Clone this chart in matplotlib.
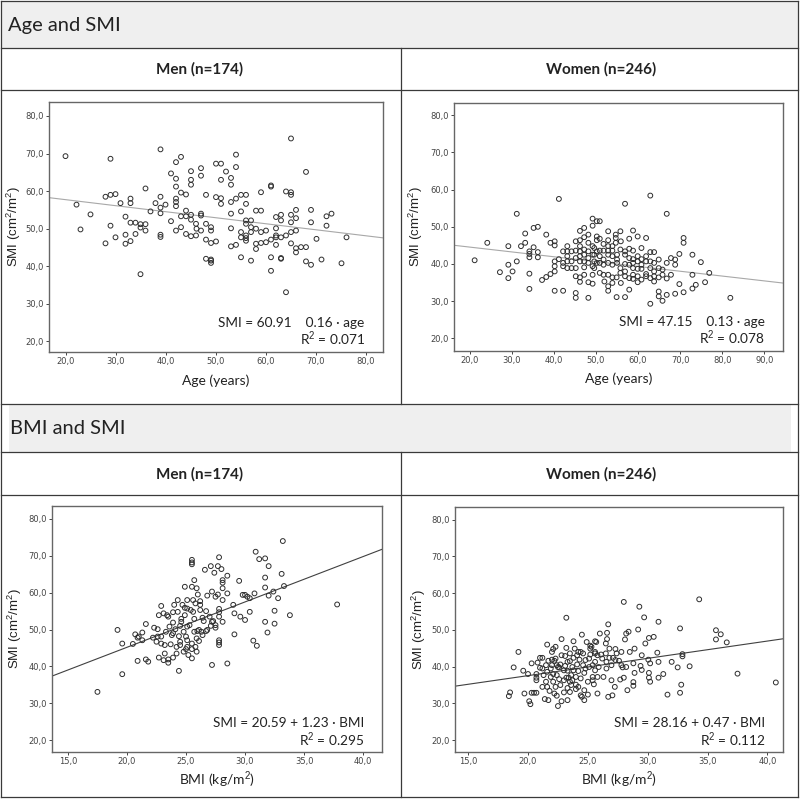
import matplotlib
matplotlib.use("Agg")
import matplotlib.pyplot as plt
from matplotlib.patches import Rectangle
from matplotlib.ticker import FuncFormatter
import numpy as np

plt.rcParams["mathtext.fontset"] = "custom"
plt.rcParams["mathtext.rm"] = "Liberation Sans"
plt.rcParams["mathtext.it"] = "Liberation Sans"

# ---- data ----
men_age = [19.9, 22.1, 22.9, 24.9, 27.9, 27.9, 28.9, 28.9, 28.9, 29.9, 29.9, 30.9, 31.9, 31.9, 31.9,
           32.9, 32.9, 32.9, 32.9, 33.9, 33.9, 34.9, 34.9, 34.9, 35.9, 35.9, 35.9, 36.9, 37.9, 38.9,
           38.9, 38.9, 38.9, 38.9, 38.9, 39.9, 41.0, 41.0, 42.0, 42.0, 42.0, 42.0, 42.0, 42.0, 42.0,
           43.0, 43.0, 43.0, 43.0, 44.0, 44.0, 44.0, 44.0, 45.0, 45.0, 45.0, 45.0, 45.0, 45.0, 46.0,
           46.0, 46.1,
           47.0, 47.0, 48.0, 48.0, 48.0, 49.0, 49.0, 50.0, 51.0, 50.0, 51.0, 50.0, 49.0, 51.0, 51.0,
           48.0, 49.0, 49.0, 49.0, 47.0, 47.0, 47.0, 52.0, 53.0, 53.0, 54.0, 54.0, 53.0, 54.0, 55.0,
           56.0, 56.0, 53.0, 55.0, 53.0, 53.0, 54.0, 55.0, 55.0, 55.0, 56.0, 56.0, 56.0, 56.0, 56.0,
           57.0, 57.0, 57.0, 57.0, 58.0, 59.0, 59.0, 58.0, 58.0, 59.0, 60.0, 60.0, 61.0, 61.0, 61.0,
           61.0, 61.0, 62.0, 62.0, 62.0, 62.0, 62.0, 63.0, 63.0, 63.0, 63.0, 63.0, 64.0, 64.0, 64.0,
           65.0, 65.0, 65.0, 65.0, 65.0, 65.0, 65.0, 66.0, 66.0, 66.0, 66.0, 66.0, 67.0, 68.0, 68.0,
           69.0, 69.0, 68.0, 69.0, 70.1, 71.1, 72.1, 73.1, 72.1, 75.1, 76.1, 58.0, 59.0]
men_age_smi = [69.3, 56.4, 49.8, 53.8, 46.1, 58.5, 68.6, 50.8, 59.0, 59.2, 47.7, 56.8, 53.2, 48.4, 46.0,
               58.0, 56.8, 51.6, 46.7, 51.6, 48.6, 51.2, 50.3, 37.9, 60.7, 51.2, 49.5, 54.6, 56.8, 71.1,
               58.5, 55.6, 54.1, 48.4, 47.8, 56.4, 64.7, 52.0, 67.7, 63.3, 61.2, 58.0, 57.1, 56.0, 49.5,
               69.1, 59.6, 53.3, 50.4, 59.1, 54.8, 53.3, 48.6, 65.3, 63.0, 61.7, 53.7, 52.4, 48.0, 51.3,
               48.2, 50.0,
               66.1, 64.1, 59.0, 51.3, 47.1, 49.5, 46.2, 67.3, 67.3, 58.4, 58.1, 46.6, 50.4, 63.0, 56.6,
               42.0, 41.5, 41.8, 40.9, 54.0, 53.5, 49.5, 65.2, 63.5, 61.7, 69.7, 66.4, 57.1, 58.0, 59.0,
               59.0, 56.6, 54.0, 54.6, 50.1, 45.3, 45.7, 42.4, 49.1, 47.7, 52.2, 51.3, 48.2, 47.5, 46.8,
               52.2, 50.4, 49.1, 41.5, 54.8, 54.8, 59.7, 50.0, 46.0, 46.2, 46.4, 49.5, 61.5, 61.2, 42.4,
               38.8, 47.1, 48.2, 45.7, 53.1, 50.1, 47.7, 53.7, 52.2, 42.0, 42.2, 47.7, 59.9, 33.1, 48.2,
               74.0, 59.7, 59.0, 53.7, 51.7, 49.1, 46.1, 52.8, 55.0, 49.5, 44.8, 43.7, 45.1, 45.1, 65.1,
               55.0, 51.7, 41.3, 40.4, 47.3, 41.8, 53.3, 54.0, 50.8, 40.8, 47.7, 44.6, 49.1]

women_age = [21.2, 24.2, 27.2, 29.2, 29.2, 29.2, 30.2, 31.2, 31.2, 32.2, 33.2, 33.2, 34.2, 34.2, 34.2,
             34.2, 34.2, 35.2, 36.2, 35.2, 36.2, 36.2, 37.2, 38.2, 38.2, 39.2, 39.2, 40.2, 40.2, 40.2,
             40.2, 40.2, 40.2, 41.2, 41.2, 42.2, 42.2, 42.2, 43.2, 43.2, 43.2, 43.2, 44.2, 45.2, 45.2,
             45.2, 45.2, 45.2, 45.2, 46.2, 46.2, 46.2, 46.2, 46.2, 46.2, 46.2, 46.2, 47.2, 47.2, 47.2,
             47.2, 47.2, 47.2, 48.2, 48.2, 48.2, 48.2, 48.2, 48.2, 48.2, 49.2, 49.2, 49.2, 49.2, 49.2,
             50.2, 50.2, 50.2, 50.2,
             56.9, 62.9, 66.8, 50.9, 52.9, 54.7, 55.8, 54.7, 54.7, 52.9, 58.8, 57.9, 59.9, 61.9, 51.8,
             50.9, 50.9, 51.8, 52.9, 53.9, 52.9, 53.9, 55.8, 56.9, 57.9, 58.8, 60.8, 62.9, 63.8, 57.9,
             58.8, 59.9, 60.8, 61.9, 50.9, 51.8, 52.9, 53.9, 55.0, 56.9, 55.8, 50.9, 51.8, 52.9, 53.9,
             54.9, 55.8, 56.9, 58.8, 59.9, 60.8, 62.9, 63.8, 64.9, 65.8, 66.8, 68.8, 68.8, 69.8, 70.8,
             70.8, 72.9, 74.9, 76.9, 72.9, 75.9, 73.7, 69.8, 70.8, 68.8, 66.8, 65.8, 64.9, 64.9, 62.9,
             60.8, 59.9, 58.8, 57.9, 56.9, 54.9, 52.9, 52.9, 61.9, 61.9, 63.8, 64.9, 66.8, 67.8, 72.9,
             81.9, 55.9,
             49.6, 49.6, 49.6, 49.6, 50.9, 51.8, 52.9, 53.9, 55.0, 55.0, 56.9, 57.9, 58.8, 59.9, 60.8,
             61.9, 62.9, 63.8, 64.9, 65.8, 55.9, 53.9, 52.0, 58.8, 56.9, 57.9, 59.9, 62.9, 63.8, 67.8,
             44.2, 44.2, 45.2, 47.2, 49.2, 49.2, 50.2, 43.2, 42.2]
women_age_smi = [41.0, 45.7, 37.8, 44.8, 39.8, 36.2, 38.0, 53.5, 40.7, 44.8, 48.2, 45.7, 43.4, 42.7, 41.8,
                 37.4, 33.3, 49.7, 50.0, 44.5, 43.2, 41.8, 35.7, 47.9, 36.5, 37.3, 45.7, 46.1, 45.0, 40.7,
                 39.4, 38.0, 32.8, 57.5, 41.3, 40.3, 39.4, 32.8, 44.8, 43.4, 42.1, 38.9, 38.9, 38.9, 36.7,
                 32.2, 30.9, 43.6, 46.1, 48.9, 46.4, 44.8, 43.4, 42.1, 40.7, 36.4, 35.2, 49.7, 47.2, 43.9,
                 42.5, 40.7, 39.1, 47.9, 45.7, 43.4, 41.6, 40.3, 35.1, 30.9, 52.2, 50.3, 44.8, 39.4, 34.7,
                 47.4, 46.4, 40.3, 51.5,
                 56.2, 58.4, 53.5, 51.5, 48.8, 47.9, 48.8, 47.0, 45.7, 46.4, 49.0, 46.8, 47.4, 47.0, 45.4,
                 46.8, 43.6, 43.6, 43.6, 43.6, 42.5, 42.1, 43.9, 43.4, 44.1, 43.6, 44.3, 43.2, 43.2, 41.6,
                 41.3, 42.1, 41.3, 42.1, 40.3, 39.8, 40.3, 39.8, 40.3, 40.0, 38.9, 37.6, 37.1, 37.1, 36.4,
                 36.4, 37.6, 38.0, 38.9, 38.7, 38.7, 38.9, 38.0, 38.9, 38.5, 40.3, 39.8, 41.2, 42.7, 47.0,
                 45.7, 42.5, 40.5, 37.6, 37.1, 35.1, 34.4, 34.6, 32.4, 32.0, 31.7, 30.1, 32.6, 31.3, 29.3,
                 35.8, 35.1, 36.0, 33.1, 31.1, 31.1, 34.0, 32.8, 37.3, 36.7, 36.7, 36.4, 36.1, 37.1, 33.4,
                 30.9, 46.1,
                 44.3, 42.5, 40.7, 38.9, 42.1, 41.2, 44.8, 44.8, 42.5, 41.2, 42.5, 39.8, 40.3, 40.7, 39.8,
                 40.7, 40.7, 40.3, 41.2, 37.1, 34.9, 34.9, 35.3, 37.1, 36.7, 36.2, 36.7, 36.2, 35.3, 41.6,
                 43.4, 40.7, 41.6, 37.1, 42.5, 37.1, 43.4, 40.7, 43.4]

men_bmi = [17.5, 19.2, 19.6, 19.6, 20.5, 20.7, 20.9, 21.0, 20.9, 21.3, 21.3, 21.6, 21.6, 21.8, 22.2,
           22.3, 22.6, 22.6, 22.7, 22.7, 22.9, 22.9, 22.9, 23.1, 23.1, 23.2, 23.3, 23.4, 23.5, 23.5,
           23.5, 23.7, 23.9, 23.9, 23.9, 24.0, 24.1, 24.2, 24.3, 24.3, 24.4, 24.4, 24.5, 24.5, 24.5,
           24.6, 24.6, 24.7, 24.8, 24.9, 24.9, 24.9, 25.0, 25.0, 25.1, 25.1, 25.1, 25.1, 25.3, 25.4,
           25.5, 25.5, 25.5, 25.5, 25.5, 25.5, 25.5, 25.6, 25.6, 25.7, 25.7, 25.7, 25.8, 25.8, 25.9,
           25.9, 25.96, 26.0,
           26.6, 27.1, 27.4, 27.8, 27.7, 28.0, 28.1, 28.1, 28.5, 28.1, 27.2, 27.7, 27.5, 26.8, 26.2,
           28.5, 28.1, 27.8, 27.8, 27.8, 28.1, 27.3, 26.7, 26.4, 26.5, 26.2, 26.2, 27.0, 27.2, 27.5,
           27.5, 27.1, 26.8, 26.7, 26.3, 26.4, 26.1, 26.1, 27.8, 27.8, 27.8, 27.2, 28.5, 29.0, 29.1,
           29.1, 29.5, 29.6, 29.8, 30.0, 30.0, 30.2, 30.4, 30.4, 30.8, 30.9, 31.2, 30.7, 31.0, 31.7,
           31.7, 31.7, 31.7, 32.0, 32.0, 31.9, 32.4, 32.5, 32.5, 32.8, 33.1, 33.2, 33.3, 33.8, 37.8,
           23.8, 24.2, 24.8, 25.2, 25.9, 25.1, 23.9, 23.2, 22.5, 23.6]
men_bmi_smi = [33.1, 49.9, 46.2, 37.9, 46.1, 48.7, 47.8, 48.1, 41.5, 49.2, 47.1, 51.5, 41.9, 41.3, 47.8,
               50.5, 50.1, 48.1, 53.9, 42.4, 56.4, 46.2, 48.1, 54.4, 41.7, 43.5, 49.4, 53.9, 41.9, 41.0,
               53.5, 46.0, 54.7, 42.4, 51.9, 56.7, 50.1, 45.3, 58.0, 54.8, 38.8, 48.2, 51.0, 46.7, 45.8,
               52.9, 52.1, 56.7, 49.4, 61.6, 53.9, 55.9, 48.1, 44.7, 58.0, 50.8, 47.1, 45.3, 51.2, 55.3,
               68.9, 68.2, 67.7, 61.6, 46.2, 44.7, 42.2, 58.0, 54.8, 52.9, 49.4, 63.4, 57.1, 45.3, 61.2,
               47.6, 49.6, 59.5,
               66.2, 67.2, 65.4, 69.6, 67.2, 66.4, 63.4, 62.7, 64.6, 61.2, 60.3, 59.5, 58.9, 59.2, 57.7,
               59.8, 58.0, 55.6, 54.7, 53.5, 52.1, 52.3, 55.0, 53.2, 52.3, 56.7, 55.3, 53.5, 52.1, 51.2,
               50.5, 51.0, 49.9, 49.6, 49.4, 48.5, 49.9, 46.9, 47.1, 46.5, 45.8, 40.4, 40.8, 56.7, 54.4,
               48.7, 63.2, 53.5, 59.4, 59.4, 52.6, 58.9, 58.5, 54.8, 59.8, 71.1, 69.1, 47.0, 45.6, 69.3,
               64.1, 61.4, 52.1, 67.2, 59.2, 49.2, 60.3, 55.1, 51.6, 58.5, 65.1, 74.0, 61.8, 53.9, 56.8,
               48.5, 43.5, 44.0, 43.1, 44.0, 55.7, 49.0, 45.8, 46.7, 50.8]

women_bmi = [18.4, 18.5, 18.8, 19.2, 19.6, 19.7, 20.0, 20.1, 20.2, 20.3, 20.5, 20.7, 20.7, 20.7, 20.7,
             20.8, 21.0, 21.0, 21.2, 21.2, 21.2, 21.4, 21.5, 21.5, 21.6, 21.6, 21.7, 21.7, 21.8, 21.9,
             21.9, 22.0, 22.0, 22.1, 22.1, 22.2, 22.2, 22.3, 22.3, 22.3, 22.4, 22.4, 22.5, 22.5, 22.6,
             22.6, 22.7, 22.8, 22.8, 22.8, 23.0, 23.0, 23.1, 23.1, 23.2, 23.2, 23.2, 23.3, 23.3, 23.3,
             23.4, 23.5, 23.5, 23.5, 23.6, 23.6, 23.7, 23.8, 23.8, 23.8, 23.9, 24.0, 24.0, 24.1, 24.1,
             24.2, 24.2, 24.3, 24.4, 24.4, 24.5, 24.5, 24.6, 24.6, 24.7, 24.7, 24.8, 24.9, 25.0, 25.0,
             25.1, 25.2, 25.2, 25.2, 25.3, 25.4, 25.4, 25.5, 25.6, 25.6, 25.6, 25.6, 25.7, 25.8, 25.8,
             25.9, 26.0,
             28.0, 29.3, 29.7, 30.9, 34.3, 26.7, 28.2, 28.4, 29.2, 29.8, 30.1, 30.5, 32.7, 35.7, 36.1,
             35.7, 36.6, 26.6, 26.5, 26.6, 28.1, 28.9, 28.5, 27.8, 27.3, 26.8, 26.5, 26.1, 26.8, 27.1,
             27.6, 27.3, 26.2, 26.55, 26.97, 27.4, 27.8, 27.9, 28.2, 28.8, 29.5, 30.05, 30.2, 30.8, 30.9,
             30.1, 30.1, 30.2, 30.9, 31.3, 32.0, 32.5, 32.9, 32.9, 33.5, 32.8, 32.7, 31.65, 29.5, 29.4,
             28.9, 28.8, 28.8, 28.3, 28.0, 27.7, 27.25, 27.05, 26.7, 26.97, 26.3, 26.55, 37.5, 40.7,
             20.3, 22.0, 22.4, 23.0, 23.3, 23.7, 24.0, 24.4, 24.8, 25.1, 25.4, 25.8, 21.6, 22.7, 23.5,
             21.3, 22.1, 24.2, 24.7, 25.6]
women_bmi_smi = [32.0, 33.0, 39.8, 44.0, 38.9, 32.7, 38.0, 30.6, 29.8, 32.9, 32.9, 38.0, 37.0, 32.9, 36.3,
                 41.1, 42.4, 39.7, 42.4, 39.5, 34.5, 31.2, 40.4, 35.9, 46.0, 38.6, 41.6, 30.9, 33.4, 37.2,
                 39.5, 41.9, 40.4, 44.8, 38.0, 41.6, 32.7, 42.2, 34.5, 45.4, 40.4, 32.1, 39.9, 29.3, 39.8,
                 36.6, 40.6, 47.5, 30.6, 43.1, 36.3, 33.0, 42.9, 40.2, 53.3, 45.1, 37.0, 34.2, 30.9, 38.9,
                 37.0, 35.9, 43.6, 41.5, 37.7, 35.0, 36.3, 46.9, 42.4, 39.0, 44.9, 35.1, 33.9, 43.1, 40.6,
                 44.0, 38.8, 41.9, 36.8, 32.2, 31.8, 48.7, 43.6, 40.4, 38.3, 30.9, 41.8, 46.7, 35.9, 32.4,
                 39.9, 45.7, 44.9, 43.3, 45.4, 37.2, 36.3, 35.2, 46.9, 43.6, 39.0, 41.3, 46.7, 37.2, 32.7,
                 39.9, 49.0,
                 57.6, 56.3, 53.4, 52.2, 58.3, 51.5, 49.0, 49.5, 50.1, 46.3, 47.8, 48.1, 50.4, 49.9, 48.8,
                 47.4, 46.6, 47.5, 46.3, 49.2, 47.4, 44.9, 44.0, 44.0, 44.8, 44.9, 43.6, 43.3, 42.4, 42.4,
                 41.6, 41.8, 42.2, 41.3, 40.4, 43.6, 40.4, 39.8, 39.9, 40.9, 43.1, 41.9, 40.9, 43.8, 41.3,
                 38.3, 37.0, 35.9, 37.0, 38.0, 41.3, 39.8, 43.4, 42.8, 40.1, 35.1, 32.9, 32.4, 39.1, 40.2,
                 38.3, 35.8, 34.8, 33.6, 37.0, 36.5, 34.5, 32.2, 31.8, 36.3, 37.2, 39.5, 38.1, 35.7,
                 40.9, 44.0, 37.7, 39.0, 41.3, 39.9, 37.2, 44.0, 39.5, 42.2, 40.4, 43.1, 34.5, 35.0, 33.1,
                 37.7, 35.9, 34.5, 33.6, 44.0]

# fitted lines (intercept, slope) as printed on the chart
fits = {
    "men_age": (60.91, -0.16),
    "women_age": (47.15, -0.13),
    "men_bmi": (20.59, 1.23),
    "women_bmi": (28.16, 0.47),
}
eq_text = {
    "men_age": ("SMI = 60.91    0.16 \u00b7 age", "R$^2$ = 0.071"),
    "women_age": ("SMI = 47.15    0.13 \u00b7 age", "R$^2$ = 0.078"),
    "men_bmi": ("SMI = 20.59 + 1.23 \u00b7 BMI", "R$^2$ = 0.295"),
    "women_bmi": ("SMI = 28.16 + 0.47 \u00b7 BMI", "R$^2$ = 0.112"),
}

W, H = 800, 799
fig = plt.figure(figsize=(W / 100, H / 100), dpi=100)
fig.patch.set_facecolor("white")

# table / frame drawn in pixel space
bg = fig.add_axes([0, 0, 1, 1])
bg.set_xlim(0, W)
bg.set_ylim(H, 0)
bg.axis("off")
lc = "#3a3a3a"
bg.add_patch(Rectangle((1, 1), 797, 47, facecolor="#efefef", edgecolor="none"))
bg.add_patch(Rectangle((9, 405), 782, 47, facecolor="#efefef", edgecolor="none"))
for y in [1, 48, 90, 404, 452, 495, 797]:
    bg.plot([1, 798], [y, y], color=lc, lw=0.9)
bg.plot([1, 1], [1, 797], color=lc, lw=0.9)
bg.plot([798, 798], [1, 797], color=lc, lw=0.9)
bg.plot([401, 401], [48, 404], color=lc, lw=0.9)
bg.plot([401, 401], [452, 797], color=lc, lw=0.9)

bg.text(8, 25, "Age and SMI", fontsize=14.5, family="Lato", va="center", ha="left", color="#222")
bg.text(10, 429, "BMI and SMI", fontsize=14.5, family="Lato", va="center", ha="left", color="#222")
for yy in [69, 474]:
    bg.text(200, yy, "Men (n=174)", fontsize=11, family="Lato", weight="bold", ha="center", va="center", color="#222")
    bg.text(601, yy, "Women (n=246)", fontsize=11, family="Lato", weight="bold", ha="center", va="center", color="#222")

comma = FuncFormatter(lambda v, p: ("%.1f" % v).replace(".", ","))


def panel(rect_px, x, y, key, xlim, ylim, xticks, xlabel, line_col, label_y, ylab_x):
    l, t, r, b = rect_px
    ax = fig.add_axes([l / W, 1 - b / H, (r - l) / W, (b - t) / H])
    ax.scatter(x, y, s=12, facecolors="none", edgecolors="#2e2e2e", linewidths=0.7, zorder=3)
    a, k = fits[key]
    xs = np.array(xlim)
    ax.plot(xs, a + k * xs, color=line_col, lw=0.8, zorder=2)
    ax.set_xlim(xlim)
    ax.set_ylim(ylim)
    ax.set_xticks(xticks)
    ax.set_yticks(range(20, 81, 10))
    ax.xaxis.set_major_formatter(comma)
    ax.yaxis.set_major_formatter(comma)
    ax.tick_params(labelsize=6, length=2.2, width=0.7, color="#444", labelcolor="#444", pad=1.5)
    for s in ax.spines.values():
        s.set_color("#666")
        s.set_linewidth(1.0)
    l1, l2 = eq_text[key]
    ax.text(0.945, 0.118, l1, transform=ax.transAxes, ha="right", va="center",
            fontsize=9.8, family="Lato", color="#222")
    ax.text(0.945, 0.052, l2, transform=ax.transAxes, ha="right", va="center",
            fontsize=9.8, family="Lato", color="#222")
    bg.text((l + r) / 2, label_y, xlabel, ha="center", va="center", fontsize=10, family="Lato", color="#222")
    bg.text(ylab_x, (t + b) / 2, "SMI (cm$^2$/m$^2$)", ha="center", va="center", rotation=90,
            fontsize=9.5, family="Liberation Sans", color="#222")
    return ax


panel((49, 102, 383, 352), men_age, men_age_smi, "men_age", (16.6, 83.4), (17.2, 83.7),
      range(20, 81, 10), "Age (years)", "#a8a8a8", 381, 14)
panel((454, 103, 783, 351), women_age, women_age_smi, "women_age", (16.3, 94.4), (16.6, 83.3),
      range(20, 91, 10), "Age (years)", "#a8a8a8", 379, 416)
panel((52, 506, 382, 752), men_bmi, men_bmi_smi, "men_bmi", (13.65, 41.6), (16.8, 83.5),
      range(15, 41, 5), "BMI (kg/m$^2$)", "#404040", 780, 15)
panel((455, 507, 783, 752), women_bmi, women_bmi_smi, "women_bmi", (13.9, 41.3), (16.8, 83.4),
      range(15, 41, 5), "BMI (kg/m$^2$)", "#404040", 780, 419)

fig.savefig("out.png", dpi=100)
